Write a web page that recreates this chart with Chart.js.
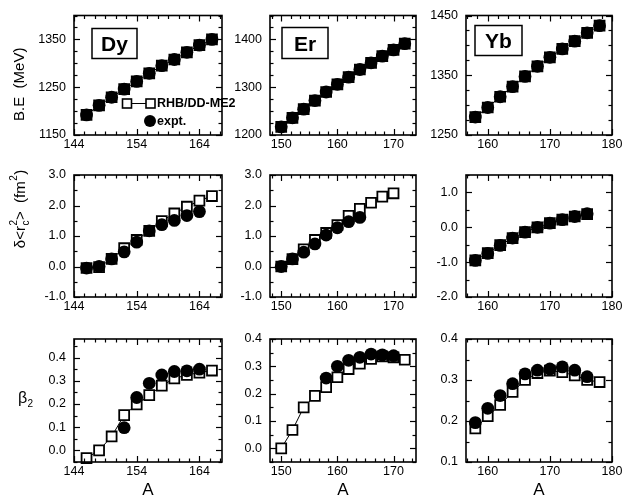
<!DOCTYPE html>
<html><head><meta charset="utf-8">
<script src="https://cdn.jsdelivr.net/npm/chart.js@4.4.1/dist/chart.umd.min.js"></script>
<style>
html,body{margin:0;padding:0;background:#fff;overflow:hidden;width:623px;height:498px;position:relative}
canvas{position:absolute;left:0;top:0}
</style></head>
<body>
<script>
// ================= DATA =================
// mass numbers
const dyA      = [146,148,150,152,154,156,158,160,162,164,166];
const dyExA    = [146,148,150,152,154,156,158,160,162,164];
const dyBetaExA= [152,154,156,158,160,162,164];
const erA      = [150,152,154,156,158,160,162,164,166,168,170,172];
const erRadA   = [150,152,154,156,158,160,162,164,166,168,170];
const erRadExA = [150,152,154,156,158,160,162,164];
const erBetaExA= [158,160,162,164,166,168,170];
const ybA      = [158,160,162,164,166,168,170,172,174,176,178];
const ybRadA   = [158,160,162,164,166,168,170,172,174,176];
const ybBetaExA= [158,160,162,164,166,168,170,172,174,176];

// binding energy B.E (MeV)
const dyBE_th = [1192,1212,1229,1246,1262,1279,1295,1308,1323,1338,1350];
const dyBE_ex = [1192,1212,1229,1246,1262,1279,1295,1308,1323,1338,1350];
const erBE_th = [1217,1236,1254,1272,1290,1306,1321,1337,1351,1365,1378,1391];
const erBE_ex = [1217,1236,1254,1272,1290,1306,1321,1337,1351,1365,1378,1391];
const ybBE_th = [1280,1296,1314,1331,1348,1365,1380,1394,1407,1421,1433];
const ybBE_ex = [1280,1296,1314,1331,1348,1365,1380,1394,1407,1421,1433];

// charge radius difference δ<rc^2> (fm^2)
const dyRad_th = [-0.05,-0.02,0.25,0.60,0.87,1.17,1.49,1.74,1.96,2.16,2.31];
const dyRad_ex = [-0.05,0.00,0.25,0.48,0.80,1.17,1.37,1.51,1.67,1.80];
const erRad_th = [0.00,0.24,0.56,0.87,1.10,1.36,1.66,1.89,2.09,2.29,2.40];
const erRad_ex = [0.00,0.25,0.47,0.74,1.03,1.27,1.47,1.61];
const ybRad_th = [-0.95,-0.74,-0.51,-0.31,-0.14,0.00,0.12,0.22,0.31,0.38];
const ybRad_ex = [-0.95,-0.75,-0.52,-0.31,-0.14,0.00,0.12,0.22,0.31,0.39];

// deformation β2
const dyBeta_th = [-0.033,0.000,0.060,0.152,0.198,0.238,0.279,0.310,0.325,0.335,0.344];
const dyBeta_ex = [0.098,0.228,0.289,0.325,0.340,0.343,0.350];
const erBeta_th = [0.000,0.067,0.150,0.192,0.224,0.260,0.290,0.310,0.327,0.336,0.333,0.324];
const erBeta_ex = [0.257,0.300,0.322,0.333,0.345,0.342,0.339];
const ybBeta_th = [0.182,0.212,0.239,0.271,0.300,0.317,0.323,0.319,0.311,0.300,0.295];
const ybBeta_ex = [0.196,0.231,0.262,0.291,0.315,0.324,0.327,0.332,0.324,0.308];

// tick labels
const dyXTicks = [144,154,164];
const erXTicks = [150,160,170];
const ybXTicks = [160,170,180];
const dyBETicks = [1150,1250,1350];
const erBETicks = [1200,1300,1400];
const ybBETicks = [1250,1350,1450];
const radTicks  = [-1,0,1,2,3];
const ybRadTicks= [-2,-1,0,1];
const betaTicks = [0,0.1,0.2,0.3,0.4];
const ybBetaTicks=[0.1,0.2,0.3,0.4];

const elements = ['Dy','Er','Yb'];
const thLabel = 'RHB/DD-ME2';
const exLabel = 'expt.';

// ================= LAYOUT =================
const CW=700, CH=560, YW=60, XH=30, XMINOR_DIV=6;
const FONT="'Liberation Sans', Arial, Helvetica, sans-serif";
const cols = {
  Dy:{L:74, R:222, xmin:144,  xmax:167.6, xt:dyXTicks, box:[18,13,45,30]},
  Er:{L:270,R:416, xmin:148,  xmax:174,   xt:erXTicks, box:[12,12,46,31]},
  Yb:{L:466,R:612, xmin:156.5,xmax:180,   xt:ybXTicks, box:[9,10,47,30]}
};
const rows = [{T:12,B:135},{T:175,B:297},{T:339,B:462}];

const panels = [
  {col:'Dy',row:0,thA:dyA,th:dyBE_th,exA:dyA,ex:dyBE_ex,y:[1150,1400],yt:dyBETicks,ym:25,dec:0,label:true,legend:true},
  {col:'Er',row:0,thA:erA,th:erBE_th,exA:erA,ex:erBE_ex,y:[1200,1450],yt:erBETicks,ym:25,dec:0,label:true},
  {col:'Yb',row:0,thA:ybA,th:ybBE_th,exA:ybA,ex:ybBE_ex,y:[1250,1450],yt:ybBETicks,ym:25,dec:0,label:true},
  {col:'Dy',row:1,thA:dyA,th:dyRad_th,exA:dyExA,ex:dyRad_ex,y:[-1,3],yt:radTicks,ym:0.5,dec:1},
  {col:'Er',row:1,thA:erRadA,th:erRad_th,exA:erRadExA,ex:erRad_ex,y:[-1,3],yt:radTicks,ym:0.5,dec:1},
  {col:'Yb',row:1,thA:ybRadA,th:ybRad_th,exA:ybRadA,ex:ybRad_ex,y:[-2,1.5],yt:ybRadTicks,ym:0.5,dec:1},
  {col:'Dy',row:2,thA:dyA,th:dyBeta_th,exA:dyBetaExA,ex:dyBeta_ex,y:[-0.05,0.48],yt:betaTicks,ym:0.05,dec:1,xtitle:true},
  {col:'Er',row:2,thA:erA,th:erBeta_th,exA:erBetaExA,ex:erBeta_ex,y:[-0.05,0.4],yt:betaTicks,ym:0.05,dec:1,xtitle:true},
  {col:'Yb',row:2,thA:ybA,th:ybBeta_th,exA:ybBetaExA,ex:ybBeta_ex,y:[0.1,0.4],yt:ybBetaTicks,ym:0.05,dec:1,xtitle:true}
];

function drawSquare(ctx,cx,cy,s,lw){
  ctx.fillStyle='#fff'; ctx.fillRect(cx-s/2,cy-s/2,s,s);
  ctx.lineWidth=lw; ctx.strokeStyle='#000'; ctx.strokeRect(cx-s/2,cy-s/2,s,s);
}

const framePlugin = {
  id:'frame',
  afterDraw(chart){
    const p = chart.$panel, c = cols[p.col];
    const ctx = chart.ctx, a = chart.chartArea, xs = chart.scales.x, ys = chart.scales.y;
    ctx.save();
    ctx.strokeStyle='#000'; ctx.lineWidth=1.2;
    const line=(x1,y1,x2,y2)=>{ctx.beginPath();ctx.moveTo(x1,y1);ctx.lineTo(x2,y2);ctx.stroke();};
    const MAJ=6, MIN=3.5;
    // x ticks
    const xt=c.xt, xstep=(xt[1]-xt[0])/XMINOR_DIV;
    for(let k=Math.ceil((xs.min-xt[0])/xstep-1e-6); xt[0]+k*xstep<=xs.max+1e-6; k++){
      const v=xt[0]+k*xstep, px=Math.round(xs.getPixelForValue(v))+0.5;
      const L=(((k%XMINOR_DIV)+XMINOR_DIV)%XMINOR_DIV===0)?MAJ:MIN;
      line(px,a.bottom,px,a.bottom-L); line(px,a.top,px,a.top+L);
    }
    // y ticks
    const yt=p.yt, n=Math.round((yt[1]-yt[0])/p.ym);
    for(let k=Math.ceil((ys.min-yt[0])/p.ym-1e-6); yt[0]+k*p.ym<=ys.max+1e-6; k++){
      const v=yt[0]+k*p.ym, py=Math.round(ys.getPixelForValue(v))+0.5;
      const L=(((k%n)+n)%n===0)?MAJ:MIN;
      line(a.left,py,a.left+L,py); line(a.right,py,a.right-L,py);
    }
    ctx.lineWidth=1.6;
    ctx.strokeRect(a.left,a.top,a.right-a.left,a.bottom-a.top);

    // element label box
    if(p.label){
      const [bx,by,bw,bh]=c.box;
      ctx.lineWidth=1.5;
      ctx.strokeRect(a.left+bx,a.top+by,bw,bh);
      ctx.fillStyle='#000'; ctx.font='bold 21px '+FONT;
      ctx.textAlign='center'; ctx.textBaseline='alphabetic';
      ctx.fillText(p.col,a.left+bx+bw/2,a.top+by+bh/2+7.5);
    }
    // legend
    if(p.legend){
      const ly=a.top+88, lx=a.left+53;
      ctx.lineWidth=1; line(lx,ly,lx+23,ly);
      drawSquare(ctx,lx,ly,9,1.6);
      drawSquare(ctx,lx+23.5,ly,9,1.6);
      ctx.fillStyle='#000'; ctx.font='bold 12.5px '+FONT;
      ctx.textAlign='left'; ctx.textBaseline='middle';
      ctx.fillText(thLabel,lx+30,ly+0.5);
      ctx.beginPath(); ctx.arc(lx+23,ly+17.5,6,0,Math.PI*2); ctx.fill();
      ctx.fillText(exLabel,lx+30,ly+18);
    }
    // x title
    if(p.xtitle){
      ctx.fillStyle='#000'; ctx.font='17px '+FONT;
      ctx.textAlign='center'; ctx.textBaseline='alphabetic';
      ctx.fillText('A',(a.left+a.right)/2,a.bottom+33);
    }
    // y titles (left column only)
    if(p.col==='Dy'){
      ctx.fillStyle='#000'; ctx.textBaseline='alphabetic'; ctx.textAlign='left';
      if(p.row===0){
        ctx.save(); ctx.translate(23.5,(a.top+a.bottom)/2+9); ctx.rotate(-Math.PI/2);
        ctx.font='15px '+FONT; const t='B.E  (MeV)'; const w=ctx.measureText(t).width;
        ctx.fillText(t,-w/2,0); ctx.restore();
      } else if(p.row===1){
        ctx.save(); ctx.translate(25,210); ctx.rotate(-Math.PI/2);
        const big='15px '+FONT, sm='10px '+FONT;
        const parts=[['δ<r',big,0],['c',sm,4,'sub'],['>  (fm',big,0],['2',sm,-8],[')',big,0]];
        // measure
        let w=0; for(const pt of parts){ctx.font=pt[1]; if(pt[3]!=='sub') w+=ctx.measureText(pt[0]).width; else w+=0;}
        ctx.font=sm; const cw=ctx.measureText('c').width; w+=cw;
        let x=-w/2;
        ctx.font=big; ctx.fillText('δ<r',x,0); x+=ctx.measureText('δ<r').width;
        ctx.font=sm; ctx.fillText('c',x+0.5,4); ctx.fillText('2',x+0.5,-8); x+=cw+1;
        ctx.font=big; ctx.fillText('>  (fm',x,0); x+=ctx.measureText('>  (fm').width;
        ctx.font=sm; ctx.fillText('2',x+0.5,-8); x+=ctx.measureText('2').width+1;
        ctx.font=big; ctx.fillText(')',x,0);
        ctx.restore();
      } else {
        ctx.font='16px '+FONT; ctx.fillText('β',18,403);
        ctx.font='10px '+FONT; ctx.fillText('2',27.5,407);
      }
    }
    ctx.restore();
  }
};

function fmt(v,dec){return Number(v).toFixed(dec);}

panels.forEach(p=>{
  const c=cols[p.col], r=rows[p.row];
  const cv=document.createElement('canvas');
  cv.width=CW; cv.height=CH; cv.style.width=CW+'px'; cv.style.height=CH+'px';
  document.body.appendChild(cv);
  const ch = new Chart(cv,{
    type:'scatter',
    data:{datasets:[
      {label:exLabel, data:p.exA.map((a,i)=>({x:a,y:p.ex[i]})), pointStyle:'circle',
       pointRadius:6.4, pointBackgroundColor:'#000', pointBorderColor:'#000', pointBorderWidth:0,
       showLine:false, clip:false},
      {label:thLabel, data:p.thA.map((a,i)=>({x:a,y:p.th[i]})), showLine:true, borderColor:'#000',
       borderWidth:1, tension:0, pointStyle:'rect', pointRadius:7.0, pointBackgroundColor:'#fff',
       pointBorderColor:'#000', pointBorderWidth:1.8, clip:false}
    ]},
    options:{
      responsive:false, animation:false, devicePixelRatio:1, events:[],
      layout:{padding:{left:c.L-YW, top:r.T, right:CW-c.R, bottom:CH-r.B-XH}},
      plugins:{legend:{display:false}, tooltip:{enabled:false}},
      scales:{
        x:{type:'linear', position:'bottom', min:c.xmin, max:c.xmax,
           afterFit(s){s.height=XH;},
           afterBuildTicks(s){s.ticks=c.xt.map(v=>({value:v}));},
           grid:{display:false, drawTicks:false}, border:{display:false},
           ticks:{color:'#000', font:{family:FONT,size:12.5}, padding:2, maxRotation:0, autoSkip:false,
                  callback:(v)=>fmt(v,0)}},
        y:{type:'linear', position:'left', min:p.y[0], max:p.y[1],
           afterFit(s){s.width=YW;},
           afterBuildTicks(s){s.ticks=p.yt.map(v=>({value:v}));},
           grid:{display:false, drawTicks:false}, border:{display:false},
           ticks:{color:'#000', font:{family:FONT,size:12.5}, padding:8, autoSkip:false,
                  callback:(v)=>fmt(v,p.dec)}}
      }
    },
    plugins:[{id:'attach',beforeInit(chart){chart.$panel=p;}}, framePlugin]
  });
});
</script>
</body></html>
